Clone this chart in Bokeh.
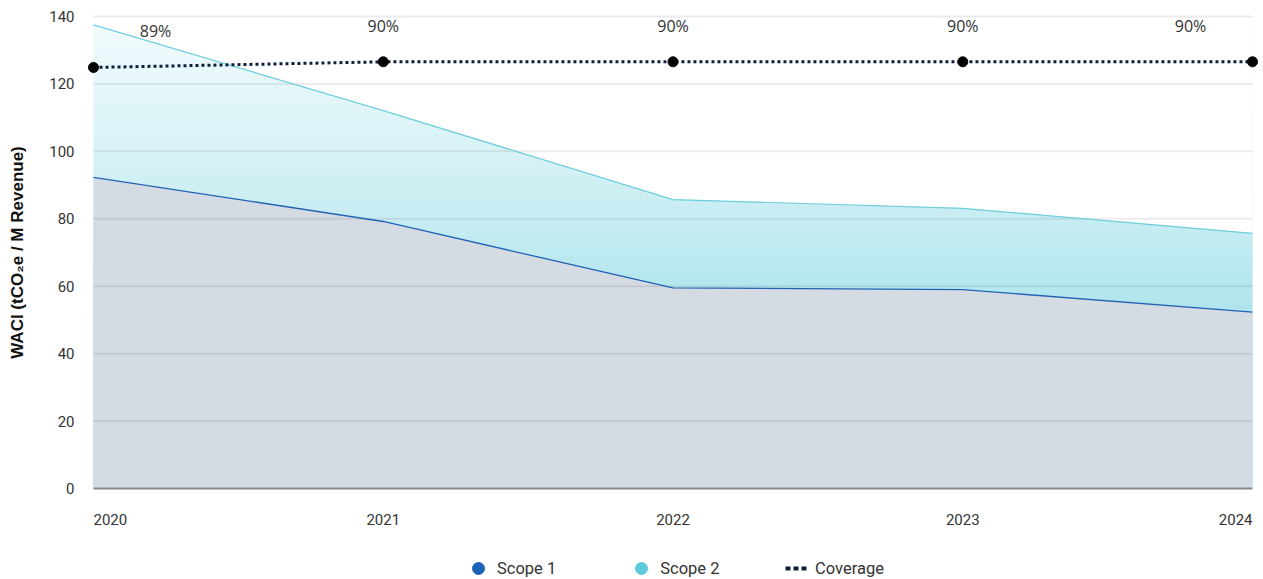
import numpy as np
from bokeh.plotting import figure
from bokeh.layouts import column
from bokeh.models import Range1d, FixedTicker, Legend, LegendItem
from bokeh.core.properties import value
from bokeh.embed import file_html
from bokeh.resources import INLINE

# ---------------- data ----------------
years = [2020, 2021, 2022, 2023, 2024]
year_labels = ["2020", "2021", "2022", "2023", "2024"]
scope1 = [92.3, 79.2, 59.5, 59.0, 52.3]
scope2 = [45.2, 32.9, 26.2, 24.1, 23.4]
coverage = [89.2, 90.4, 90.4, 90.4, 90.4]
coverage_labels = ["89%", "90%", "90%", "90%", "90%"]
y_ticks = [0, 20, 40, 60, 80, 100, 120, 140]
series_names = ["Scope 1", "Scope 2", "Coverage"]
y_title = "WACI (tCO\u2082e / M Revenue)"

# ---------------- layout (pixels) ----------------
W, H = 1263, 579
FRAME_LEFT = 85
RIGHT_GAP = 3
PAD_X = 8
ZERO_Y = 488          # pixel row of value 0
PLOT_H = 472          # pixels from 0 to the top tick
H1 = ZERO_Y + 14      # main chart height
plot_mid = ZERO_Y - PLOT_H / 2
FRAME_TOP = int(round(2 * plot_mid - H1))   # keeps the frame centred on the plot area
H2 = H - H1               # strip below with year labels and legend
frame_w = W - FRAME_LEFT - RIGHT_GAP
px_per_year = (frame_w - 2 * PAD_X) / (years[-1] - years[0])
x_pad = PAD_X / px_per_year
y_top = y_ticks[-1]
ppu = PLOT_H / y_top
y_end = y_top + (ZERO_Y - PLOT_H - FRAME_TOP) / ppu
y_start = -(H1 - ZERO_Y) / ppu
cov_top = 100.0
cov_k = cov_top / y_top

total = [a + b for a, b in zip(scope1, scope2)]
n = len(years)
nan_y = [float("nan")] * n

xr = Range1d(years[0] - x_pad, years[-1] + x_pad)
p = figure(width=W, height=H1, title=None, x_range=xr,
           y_range=Range1d(y_start, y_end),
           output_backend="svg", toolbar_location=None,
           x_axis_location=None,
           min_border_left=FRAME_LEFT, min_border_right=RIGHT_GAP,
           min_border_top=FRAME_TOP, min_border_bottom=0)
p.extra_y_ranges = {"cov": Range1d(y_start * cov_k, y_end * cov_k)}
p.outline_line_color = None
p.background_fill_color = "white"
p.border_fill_color = "white"
p.xgrid.visible = False
p.ygrid.visible = False

ax = p.yaxis[0]
ax.ticker = FixedTicker(ticks=y_ticks)
ax.axis_line_color = None
ax.major_tick_line_color = None
ax.minor_tick_line_color = None
ax.major_label_text_font = "Roboto"
ax.major_label_text_font_size = "15px"
ax.major_label_text_color = "#333333"
ax.major_label_standoff = 5
ax.axis_label = y_title
ax.axis_label_text_font = "Liberation Sans"
ax.axis_label_text_font_style = "bold"
ax.axis_label_text_font_size = "17px"
ax.axis_label_text_color = "#111111"
ax.axis_label_standoff = 19

# ---------------- scope 2 gradient (background strips, masked) ----------------
stop_v = [50, 60, 100, 137]
stop_rgb = np.array([(174, 228, 236), (181, 231, 238), (216, 242, 246), (241, 251, 253)])
edges = np.arange(0, y_top, 1.0)
mids = edges + 0.5
cols = []
for m in mids:
    r, g, b = (int(round(np.interp(m, stop_v, stop_rgb[:, k]))) for k in range(3))
    cols.append("#%02x%02x%02x" % (r, g, b))
p.quad(left=years[0], right=years[-1], bottom=edges,
       top=np.minimum(edges + 1.6, y_top), fill_color=cols, line_color=None)
p.varea(x=years, y1=total, y2=[y_top] * n, fill_color="white")
p.varea(x=years, y1=[y_ticks[0]] * n, y2=scope1, fill_color="#d5dbe3")

# gridlines
p.segment(x0=years[0], x1=years[-1], y0=y_ticks[1:], y1=y_ticks[1:],
          line_color="black", line_alpha=0.075, line_width=2)

# outlines
p.line(years, total, line_color="#6ccddd", line_width=1.2)
p.line(years, scope1, line_color="#2262b5", line_width=1.3)
# baseline
p.segment(x0=years[0], x1=years[-1], y0=y_ticks[0], y1=y_ticks[0],
          line_color="#8a8a8a", line_width=2)

# coverage
p.line(years, coverage, y_range_name="cov", line_color="#0c1f3d",
       line_width=3, line_dash="3 3")
p.scatter(years, coverage, y_range_name="cov", size=10, fill_color="black",
          line_color="black")
offs = [62 if i == 0 else (-62 if i == n - 1 else 0) for i in range(n)]
p.text(x=years, y=coverage, text=coverage_labels, y_range_name="cov",
       x_offset=offs, y_offset=-36, text_align="center", text_baseline="middle",
       text_font=value("Open Sans"), text_font_size="16px", text_color="#333333")

# ---------------- strip below: year labels + legend ----------------
p2 = figure(width=W, height=H2, title=None, x_range=xr,
            y_range=Range1d(-H2 / ppu, 0),
            output_backend="svg", toolbar_location=None,
            x_axis_location=None, y_axis_location=None,
            min_border_left=FRAME_LEFT, min_border_right=RIGHT_GAP,
            min_border_top=0, min_border_bottom=0)
p2.outline_line_color = None
p2.xgrid.visible = False
p2.ygrid.visible = False
p2.background_fill_color = "white"
p2.border_fill_color = "white"

aligns = ["left" if i == 0 else ("right" if i == n - 1 else "center") for i in range(n)]
p2.text(x=years, y=[y_ticks[0]] * n, text=year_labels, y_offset=519 - H1,
        text_align=aligns, text_baseline="middle",
        text_font=value("Roboto"), text_font_size="15px", text_color="#333333")

r1 = p2.scatter(x=years, y=nan_y, marker="circle", fill_color="#1b63b8", line_color="#1b63b8")
r2 = p2.scatter(x=years, y=nan_y, marker="circle", fill_color="#5ecbdc", line_color="#5ecbdc")
r3 = p2.line(x=years, y=nan_y, line_color="#0c1f3d", line_width=4, line_dash="5 3")

common = dict(orientation="horizontal", padding=0, margin=0, border_line_color=None,
              background_fill_alpha=0, label_text_font="Roboto",
              label_text_font_size="16.5px", label_text_color="#333333")
legA = Legend(items=[LegendItem(label=series_names[0], renderers=[r1]),
                     LegendItem(label=series_names[1], renderers=[r2])],
              location=(378, -4), glyph_width=30, glyph_height=30,
              label_standoff=4, spacing=70, **common)
legB = Legend(items=[LegendItem(label=series_names[2], renderers=[r3])],
              location=(700, -4), glyph_width=23, glyph_height=30,
              label_standoff=7, **common)
p2.add_layout(legA)
p2.add_layout(legB)

layout = column(p, p2, spacing=0)
open("out.html", "w").write(file_html(layout, INLINE))
